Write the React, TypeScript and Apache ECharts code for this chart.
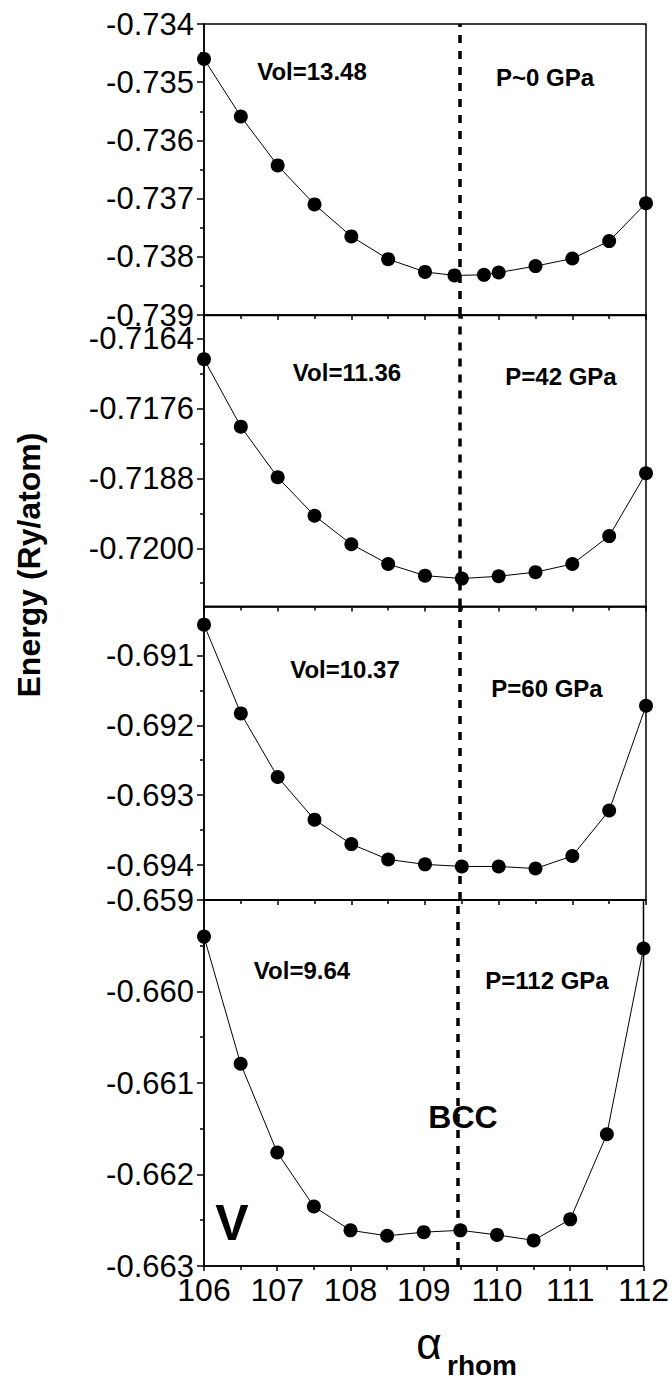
import React, { useEffect, useRef } from "react";
import * as echarts from "echarts";

const FONT = '"Liberation Sans", Arial, Helvetica, sans-serif';

// alpha_rhom (degrees)
const anglesP1 = [106, 106.5, 107, 107.5, 108, 108.5, 109, 109.4, 109.8, 110, 110.5, 111, 111.5, 112];
const angles = [106, 106.5, 107, 107.5, 108, 108.5, 109, 109.5, 110, 110.5, 111, 111.5, 112];

// Energy (Ry/atom)
const energyVol1348 = [-0.7346, -0.73559, -0.73643, -0.7371, -0.73765, -0.73804, -0.73826, -0.73832, -0.73831, -0.73827, -0.73816, -0.73803, -0.73773, -0.73708];
const energyVol1136 = [-0.71675, -0.71791, -0.71878, -0.71944, -0.71993, -0.72027, -0.72047, -0.72052, -0.72048, -0.72041, -0.72027, -0.71979, -0.71871];
const energyVol1037 = [-0.69056, -0.69183, -0.69274, -0.69335, -0.6937, -0.69392, -0.69399, -0.69402, -0.69402, -0.69405, -0.69387, -0.69322, -0.69172];
const energyVol964 = [-0.6594, -0.66079, -0.66176, -0.66235, -0.66261, -0.66267, -0.66263, -0.66261, -0.66266, -0.66272, -0.66249, -0.66156, -0.65953];

// y tick labels
const ticksP1 = [-0.739, -0.738, -0.737, -0.736, -0.735, -0.734];
const minorP1 = [-0.7385, -0.7375, -0.7365, -0.7355, -0.7345];
const ticksP2 = [-0.72, -0.7188, -0.7176, -0.7164];
const minorP2 = [-0.7206, -0.7194, -0.7182, -0.717];
const ticksP3 = [-0.694, -0.693, -0.692, -0.691];
const minorP3 = [-0.6935, -0.6925, -0.6915, -0.6905];
const ticksP4 = [-0.663, -0.662, -0.661, -0.66, -0.659];
const minorP4 = [-0.6625, -0.6615, -0.6605, -0.6595];

const volLabels = ["Vol=13.48", "Vol=11.36", "Vol=10.37", "Vol=9.64"];
const pressureLabels = ["P~0 GPa", "P=42 GPa", "P=60 GPa", "P=112 GPa"];
const bccAngle = 109.47;

export default function App() {
  const ref = useRef<HTMLDivElement>(null);
  useEffect(() => {
    if (!ref.current) return;
    const chart = echarts.init(ref.current, undefined, { renderer: "svg" });

    const panels = [
      { top: 24, height: 291, min: -0.739, max: -0.734, ticks: ticksP1, minor: minorP1, digits: 3, x: anglesP1, y: energyVol1348 },
      { top: 315.5, height: 291, min: -0.721, max: -0.716, ticks: ticksP2, minor: minorP2, digits: 4, x: angles, y: energyVol1136 },
      { top: 606.5, height: 293.5, min: -0.6945, max: -0.6903, ticks: ticksP3, minor: minorP3, digits: 3, x: angles, y: energyVol1037 },
      { top: 900, height: 366, min: -0.663, max: -0.659, ticks: ticksP4, minor: minorP4, digits: 3, x: angles, y: energyVol964 },
    ];

    const black = "#000";
    const grid = panels.map((p) => ({
      left: 204,
      width: 442,
      top: p.top,
      height: p.height,
      show: true,
      borderColor: black,
      borderWidth: 1.5,
      backgroundColor: "transparent",
    }));

    const xAxis = panels.map((p, i) => ({
      type: "value",
      gridIndex: i,
      min: 106,
      max: 112,
      interval: 1,
      position: "bottom",
      axisLine: { show: true, lineStyle: { color: black, width: 1.5 } },
      axisTick: { show: true, length: 5, lineStyle: { color: black, width: 1.5 } },
      minorTick: { show: true, splitNumber: 2, length: 4, lineStyle: { color: black, width: 1.5 } },
      splitLine: { show: false },
      axisLabel: {
        show: i === 3,
        fontSize: 32,
        fontFamily: FONT,
        color: black,
        margin: 8,
      },
    }));

    const yAxis: any[] = [];
    panels.forEach((p, i) => {
      yAxis.push({
        type: "value",
        gridIndex: i,
        min: p.min,
        max: p.max,
        position: "left",
        axisLine: { show: true, lineStyle: { color: black, width: 1.5 } },
        axisTick: { show: true, customValues: p.ticks, length: 7, lineStyle: { color: black, width: 1.5 } },
        axisLabel: {
          customValues: p.ticks,
          formatter: (v: number) => v.toFixed(p.digits),
          fontSize: 31,
          fontFamily: FONT,
          color: black,
          margin: 10,
        },
        splitLine: { show: false },
      });
      yAxis.push({
        type: "value",
        gridIndex: i,
        min: p.min,
        max: p.max,
        position: "left",
        axisLine: { show: false },
        axisTick: { show: true, customValues: p.minor, length: 4, lineStyle: { color: black, width: 1.5 } },
        axisLabel: { show: false },
        splitLine: { show: false },
      });
    });

    const series = panels.map((p, i) => ({
      type: "line",
      xAxisIndex: i,
      yAxisIndex: i * 2,
      data: p.x.map((xv, k) => [xv, p.y[k]]),
      symbol: "circle",
      symbolSize: 14,
      showAllSymbol: true,
      itemStyle: { color: black },
      lineStyle: { color: black, width: 1 },
      markLine: {
        silent: true,
        symbol: ["none", "none"],
        label: { show: false },
        lineStyle: { color: black, type: [8, 8], width: 3.5 },
        data: [{ xAxis: bccAngle }],
      },
    }));

    const txt = (text: string, x: number, y: number, size: number, bold = true, align = "center", extra: any = {}) => ({
      type: "text",
      x,
      y,
      z: 100,
      ...extra,
      style: {
        text,
        font: `${bold ? "bold " : ""}${size}px ${FONT}`,
        fill: black,
        textAlign: align,
        textVerticalAlign: "middle",
      },
    });

    const graphic = [
      txt(volLabels[0], 312, 71, 24),
      txt(pressureLabels[0], 545, 77, 24),
      txt(volLabels[1], 347, 372, 24),
      txt(pressureLabels[1], 561, 376, 24),
      txt(volLabels[2], 345, 669, 24),
      txt(pressureLabels[2], 547, 688, 24),
      txt(volLabels[3], 302, 970, 24),
      txt(pressureLabels[3], 547, 980, 24),
      txt("BCC", 463, 1117, 32),
      txt("V", 232, 1223, 50),
      txt("Energy (Ry/atom)", 29, 565, 32, true, "center", { rotation: Math.PI / 2 }),
      txt("α", 429, 1343, 44, false),
      txt("rhom", 447, 1365, 28, true, "left"),
    ];

    chart.setOption({
      animation: false,
      backgroundColor: "#fff",
      grid,
      xAxis,
      yAxis,
      series,
      graphic,
    });
    return () => chart.dispose();
  }, []);

  return (
    <div
      ref={ref}
      style={{ position: "absolute", left: 0, top: 0, width: 672, height: 1383, background: "#fff" }}
    />
  );
}
